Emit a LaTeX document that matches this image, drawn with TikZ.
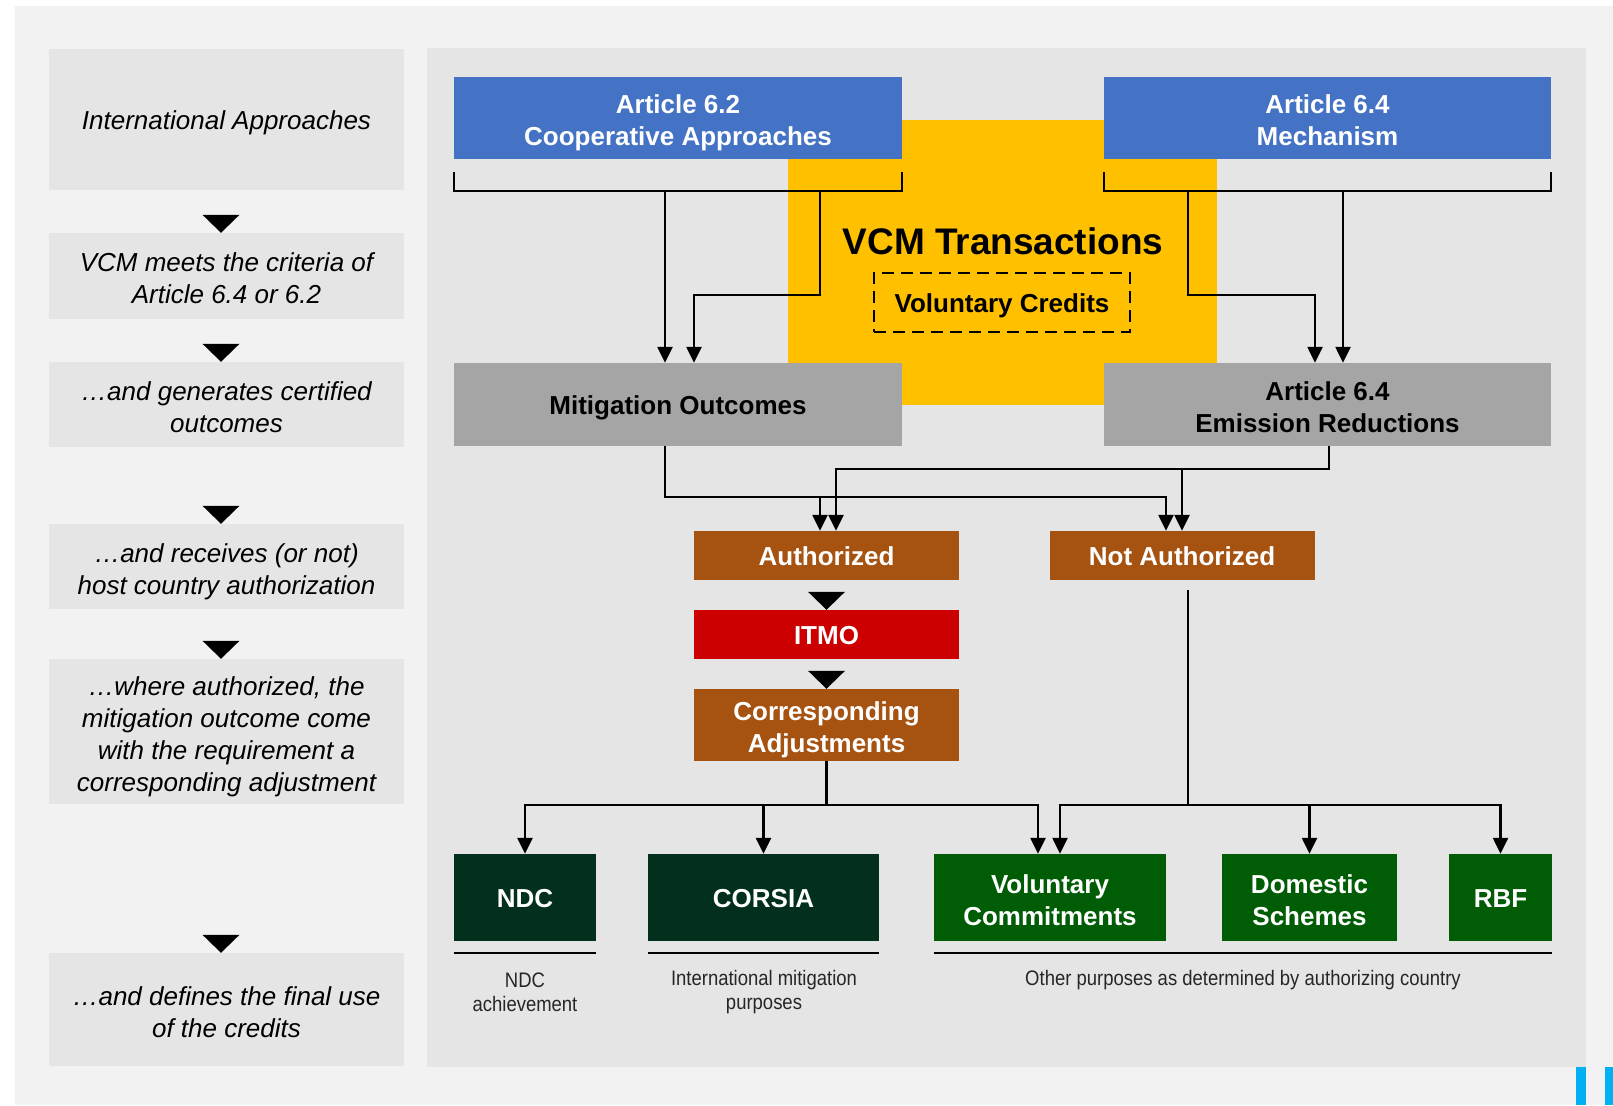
\documentclass[tikz,border=0pt]{standalone}
\usepackage{fontspec}
\setmainfont{Liberation Sans}
\newfontfamily\narrowfont[FakeStretch=0.88]{Liberation Sans}
\usetikzlibrary{arrows.meta,calc}

\definecolor{pagegray}{HTML}{F2F2F2}
\definecolor{panelgray}{HTML}{E5E5E5}
\definecolor{artblue}{HTML}{4472C4}
\definecolor{vcmyellow}{HTML}{FFC000}
\definecolor{outgray}{HTML}{A5A5A5}
\definecolor{authbrown}{HTML}{A65312}
\definecolor{itmored}{HTML}{CC0000}
\definecolor{usedark}{HTML}{03301D}
\definecolor{usegreen}{HTML}{005C05}
\definecolor{barblue}{HTML}{00B0F0}

\tikzset{
  lowtext/.style={execute at begin node={\rule{0pt}{1.1em}},
    execute at end node={\rule[-0.3em]{0pt}{0.3em}}},
  multi/.style={text height=63.6pt, text depth=8pt},
  quad/.style={text height=127.6pt, text depth=8pt},
  sidebox/.style={lowtext, fill=panelgray, minimum width=355pt, inner sep=0pt, align=center,
    font=\itshape\fontsize{26}{32}\selectfont},
  boldtext/.style={lowtext, inner sep=0pt, align=center, font=\bfseries\fontsize{26}{32}\selectfont},
  artbox/.style={boldtext, fill=artblue, text=white, minimum height=82pt},
  outbox/.style={boldtext, fill=outgray, minimum width=448pt, minimum height=83pt},
  authbox/.style={boldtext, fill=authbrown, text=white, minimum width=265pt, minimum height=49pt},
  usebox/.style={boldtext, fill=usegreen, text=white, minimum height=87pt},
  caption/.style={align=center, text=black!85, font=\narrowfont\fontsize{21}{24}\selectfont},
  link/.style={line width=2.5pt},
  arr/.style={link, -{Triangle[length=16pt,width=15pt]}},
}
\newcommand{\tipdown}[2][0pt]{\fill ([xshift=#1-18.5pt,yshift=18pt]#2) -- ([xshift=#1+18.5pt,yshift=18pt]#2) -- ([xshift=#1]#2) -- cycle;}

\begin{document}
\begin{tikzpicture}[x=1pt,y=-1pt]
  \useasboundingbox (0,0) rectangle (1613,1105);
  \fill[white] (0,0) rectangle (1613,1105);
  \fill[pagegray] (15,6) rectangle (1613,1105);
  \fill[panelgray] (427,48) rectangle (1586,1067);
  \fill[barblue] (1576,1067) rectangle (1586,1105);
  \fill[barblue] (1605,1067) rectangle (1613,1105);

  % steps on the left
  \node[sidebox, minimum height=141pt] (intl) at (226.5,119.5) {International Approaches};
  \node[sidebox, multi, minimum height=86pt] (meets) at (226.5,276) {VCM meets the criteria of\\Article 6.4 or 6.2};
  \node[sidebox, multi, minimum height=85pt] (certified) at (226.5,404.5) {…and generates certified\\outcomes};
  \node[sidebox, multi, minimum height=85pt] (receives) at (226.5,566.5) {…and receives (or not)\\host country authorization};
  \node[sidebox, quad, minimum height=145pt] (adjust) at (226.5,731.5) {…where authorized, the\\mitigation outcome come\\with the requirement a\\corresponding adjustment};
  \node[sidebox, multi, minimum height=113pt] (finaluse) at (226.5,1009.5) {…and defines the final use\\of the credits};
  \tipdown[-5.5pt]{meets.north}
  \tipdown[-5.5pt]{certified.north}
  \tipdown[-5.5pt]{receives.north}
  \tipdown[-5.5pt]{adjust.north}
  \tipdown[-5.5pt]{finaluse.north}

  % VCM block
  \node[fill=vcmyellow, minimum width=429pt, minimum height=285pt, inner sep=0pt] (vcm) at (1002.5,262.5) {};
  \node[font=\bfseries\fontsize{37}{44}\selectfont] (vcmtitle) at (1003,241) {VCM Transactions};
  \node[boldtext, draw, line width=2.5pt, dash pattern=on 12pt off 7pt,
    minimum width=256pt, minimum height=59pt] (credits) at (1002,302.5) {Voluntary Credits};

  \node[artbox, multi, minimum width=448pt] (art62) at (678,118) {Article 6.2\\Cooperative Approaches};
  \node[artbox, multi, minimum width=447pt] (art64) at (1327.5,118) {Article 6.4\\Mechanism};
  \node[outbox] (mo) at (678,404.5) {Mitigation Outcomes};
  \node[outbox, multi, minimum width=447pt] (er) at (1327.5,404.5) {Article 6.4\\Emission Reductions};

  \node[authbox] (auth) at (826.5,555.5) {Authorized};
  \node[authbox] (nauth) at (1182,555.5) {Not Authorized};
  \node[authbox, fill=itmored] (itmo) at (826.5,634.5) {ITMO};
  \node[authbox, multi, minimum height=72pt] (ca) at (826.5,725) {Corresponding\\Adjustments};
  \tipdown{itmo.north}
  \tipdown{ca.north}

  % final uses
  \node[usebox, fill=usedark, minimum width=142pt] (ndc) at (525,897.5) {NDC};
  \node[usebox, fill=usedark, minimum width=231pt] (corsia) at (763.5,897.5) {CORSIA};
  \node[usebox, multi, minimum width=232pt] (volc) at (1050,897.5) {Voluntary\\Commitments};
  \node[usebox, multi, minimum width=175pt] (dom) at (1309.5,897.5) {Domestic\\Schemes};
  \node[usebox, minimum width=103pt] (rbf) at (1500.5,897.5) {RBF};

  \draw[link] ([yshift=-12pt]ndc.south west) -- ([yshift=-12pt]ndc.south east);
  \draw[link] ([yshift=-12pt]corsia.south west) -- ([yshift=-12pt]corsia.south east);
  \draw[link] ([yshift=-12pt]volc.south west) -- ([yshift=-12pt]rbf.south east);
  \node[caption] (ndcnote) at (525,992) {NDC\\achievement};
  \node[caption] (corsianote) at (764,992) {International mitigation\\purposes};
  \node[caption] (othernote) at (1243,980) {Other purposes as determined by authorizing country};

  % brackets under the articles
  \draw[link] ([yshift=-13pt]art62.south west) -- ([yshift=-32pt]art62.south west)
    -- ([yshift=-32pt]art62.south east) -- ([yshift=-13pt]art62.south east);
  \draw[link] ([yshift=-13pt]art64.south west) -- ([yshift=-32pt]art64.south west)
    -- ([yshift=-32pt]art64.south east) -- ([yshift=-13pt]art64.south east);
  \coordinate (drop62a) at (665,191);
  \coordinate (drop62b) at (820,191);
  \coordinate (drop64a) at (1188,191);
  \coordinate (drop64b) at (1343,191);
  \draw[arr] (drop62a) -- (drop62a |- mo.north);
  \draw[arr] (drop62b) -- ++(0,104) -| ([xshift=16pt]mo.north);
  \draw[arr] (drop64a) -- ++(0,104) -| ([xshift=-12.5pt]er.north);
  \draw[arr] (drop64b) -- (drop64b |- er.north);

  % authorization
  \coordinate (mojoin) at (820,497);
  \coordinate (erjoin) at (1182,470);
  \draw[arr] ([xshift=-13pt]mo.south) -- ++(0,51) -| ([xshift=-16pt]nauth.north);
  \draw[arr] (mojoin) -- (mojoin |- auth.north);
  \draw[arr] ([xshift=1.5pt]er.south) -- ++(0,23) -| ([xshift=9.5pt]auth.north);
  \draw[arr] (erjoin) -- (nauth.north);

  % uses
  \draw[link] (ca.south) -- ++(0,44) coordinate (cajoin);
  \draw[arr] (cajoin) -| (ndc.north);
  \draw[arr] (cajoin) -| ([xshift=-12pt]volc.north);
  \draw[arr] (cajoin -| corsia.north) -- (corsia.north);
  \draw[link] ([xshift=6pt,yshift=-10pt]nauth.south) -- ++(0,215) coordinate (najoin);
  \draw[arr] (najoin) -| ([xshift=10pt]volc.north);
  \draw[arr] (najoin) -| (rbf.north);
  \draw[arr] (najoin -| dom.north) -- (dom.north);
\end{tikzpicture}
\end{document}
